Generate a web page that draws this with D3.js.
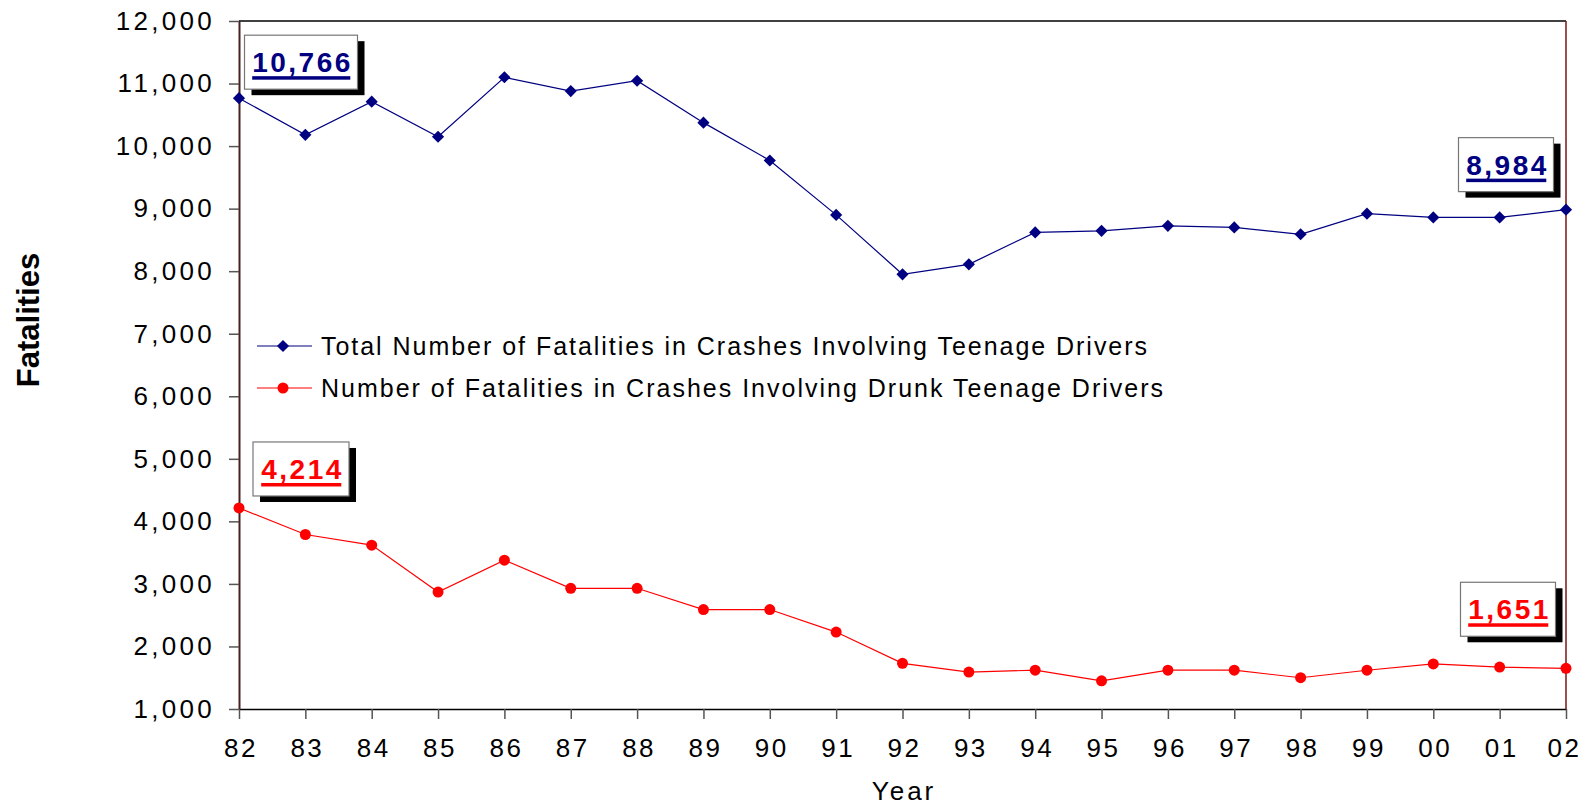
<!DOCTYPE html>
<html>
<head>
<meta charset="utf-8">
<script src="https://cdn.jsdelivr.net/npm/d3@7"></script>
<style>
  body { margin: 0; background: #fff; }
  text { font-family: Arial, "Liberation Sans", sans-serif; }
</style>
</head>
<body>
<div id="container"></div>
<script>
// data
let years = ["82","83","84","85","86","87","88","89","90","91","92","93","94","95","96","97","98","99","00","01","02"];
let totalFatalities = [10766,10180,10710,10150,11100,10880,11045,10375,9770,8900,7950,8110,8620,8645,8725,8700,8590,8920,8860,8860,8984];
let drunkFatalities = [4214,3790,3620,2870,3380,2930,2930,2590,2590,2230,1730,1590,1620,1450,1620,1620,1500,1620,1720,1670,1651];
let yTicks = [1000,2000,3000,4000,5000,6000,7000,8000,9000,10000,11000,12000];
let legendNames = [
  "Total Number of Fatalities in Crashes Involving Teenage Drivers",
  "Number of Fatalities in Crashes Involving Drunk Teenage Drivers"
];

let chartW = 1584, chartH = 806;
let plotLeft = 239, plotRight = 1566, plotTop = 21, plotBottom = 709;

let svg = d3.select("#container").append("svg")
  .attr("width", chartW)
  .attr("height", chartH);

let x = d3.scalePoint().domain(years).range([plotLeft, plotRight]);
let y = d3.scaleLinear().domain([1000, 12000]).range([plotBottom, plotTop]);
let fmt = d3.format(",");

// plot frame (top black, right maroon)
svg.append("line")
  .attr("x1", plotLeft).attr("x2", plotRight).attr("y1", plotTop).attr("y2", plotTop)
  .attr("stroke", "#000").attr("stroke-width", 1.5);
svg.append("line")
  .attr("x1", plotRight).attr("x2", plotRight).attr("y1", plotTop).attr("y2", plotBottom)
  .attr("stroke", "#7a1414").attr("stroke-width", 1.5);

// y axis
let yAxis = svg.append("g")
  .attr("transform", `translate(${plotLeft},0)`)
  .call(d3.axisLeft(y).tickValues(yTicks).tickFormat(fmt).tickSize(10).tickSizeOuter(0).tickPadding(14));
yAxis.select(".domain").attr("stroke", "#4a2020").attr("stroke-width", 2);
yAxis.selectAll(".tick line").attr("stroke", "#555").attr("stroke-width", 1.5);
yAxis.selectAll(".tick text")
  .attr("fill", "#000")
  .style("font-size", "26px")
  .style("letter-spacing", "3.3px");

// x axis
let xAxis = svg.append("g")
  .attr("transform", `translate(0,${plotBottom})`)
  .call(d3.axisBottom(x).tickSize(10).tickSizeOuter(0).tickPadding(20));
xAxis.select(".domain").attr("stroke", "#000").attr("stroke-width", 1.5);
xAxis.selectAll(".tick line").attr("stroke", "#555").attr("stroke-width", 1.5);
xAxis.selectAll(".tick text")
  .attr("fill", "#000")
  .attr("dx", (d, i) => i == years.length - 1 ? "-2px" : "1.5px")
  .style("font-size", "26px")
  .style("letter-spacing", "2.5px");

// axis titles
svg.append("text")
  .attr("x", (plotLeft + plotRight) / 2 + 1.5)
  .attr("y", 800)
  .attr("text-anchor", "middle")
  .style("font-size", "26px")
  .style("letter-spacing", "3px")
  .text("Year");

svg.append("text")
  .attr("transform", "translate(39,320) rotate(-90)")
  .attr("text-anchor", "middle")
  .style("font-size", "31px")
  .style("font-weight", "bold")
  .text("Fatalities");

// lines and markers
let line = d3.line()
  .x((d, i) => x(years[i]))
  .y(d => y(d));

svg.append("path")
  .datum(totalFatalities)
  .attr("d", line)
  .attr("fill", "none")
  .attr("stroke", "#000080")
  .attr("stroke-width", 1.2);

svg.append("path")
  .datum(drunkFatalities)
  .attr("d", line)
  .attr("fill", "none")
  .attr("stroke", "#ff0000")
  .attr("stroke-width", 1.2);

let diamond = d3.symbol().type(d3.symbolSquare).size(74);

svg.selectAll(".total-pt")
  .data(totalFatalities)
  .enter()
  .append("path")
  .attr("class", "total-pt")
  .attr("d", diamond)
  .attr("transform", (d, i) => `translate(${x(years[i])},${y(d)}) rotate(45)`)
  .attr("fill", "#000080");

svg.selectAll(".drunk-pt")
  .data(drunkFatalities)
  .enter()
  .append("circle")
  .attr("class", "drunk-pt")
  .attr("cx", (d, i) => x(years[i]))
  .attr("cy", d => y(d))
  .attr("r", 5.5)
  .attr("fill", "#ff0000");

// legend
let legend = svg.append("g");
let legendColors = ["#000080", "#ff0000"];
let legendY = [346, 388];
let legendWidths = [826, 842];
legendNames.forEach((name, i) => {
  legend.append("line")
    .attr("x1", 257).attr("x2", 312)
    .attr("y1", legendY[i]).attr("y2", legendY[i])
    .attr("stroke", legendColors[i]).attr("stroke-width", 1.2);
  if (i == 0) {
    legend.append("path")
      .attr("d", diamond)
      .attr("transform", `translate(283,${legendY[i]}) rotate(45)`)
      .attr("fill", legendColors[i]);
  } else {
    legend.append("circle")
      .attr("cx", 283).attr("cy", legendY[i]).attr("r", 5.5)
      .attr("fill", legendColors[i]);
  }
  legend.append("text")
    .attr("x", 321)
    .attr("y", legendY[i] + 9)
    .attr("textLength", legendWidths[i])
    .attr("lengthAdjust", "spacing")
    .style("font-size", "25px")
    .text(name);
});

// value call-outs for first and last years
let callouts = [
  { series: totalFatalities, idx: 0, color: "#000080", dx: 62, dy: -36, w: 113 },
  { series: totalFatalities, idx: 20, color: "#000080", dx: -60, dy: -45, w: 95 },
  { series: drunkFatalities, idx: 0, color: "#ff0000", dx: 62, dy: -39, w: 96 },
  { series: drunkFatalities, idx: 20, color: "#ff0000", dx: -58, dy: -59, w: 95 }
];

callouts.forEach(c => {
  let v = c.series[c.idx];
  let cx = x(years[c.idx]) + c.dx;
  let cy = y(v) + c.dy;
  let h = 54;
  let g = svg.append("g");
  g.append("rect")
    .attr("x", cx - c.w / 2 + 7).attr("y", cy - h / 2 + 6)
    .attr("width", c.w).attr("height", h)
    .attr("fill", "#000");
  g.append("rect")
    .attr("x", cx - c.w / 2).attr("y", cy - h / 2)
    .attr("width", c.w).attr("height", h)
    .attr("fill", "#fff")
    .attr("stroke", "#777")
    .attr("stroke-width", 1.2);
  let t = g.append("text")
    .attr("x", cx + 1.5)
    .attr("y", cy + 10)
    .attr("text-anchor", "middle")
    .attr("fill", c.color)
    .style("font-size", "28px")
    .style("font-weight", "bold")
    .style("letter-spacing", "2.5px")
    .text(fmt(v));
  let bb = t.node().getBBox();
  g.append("rect")
    .attr("x", bb.x)
    .attr("y", cy + 14)
    .attr("width", bb.width - 2.5)
    .attr("height", 3.5)
    .attr("fill", c.color);
});
</script>
</body>
</html>
